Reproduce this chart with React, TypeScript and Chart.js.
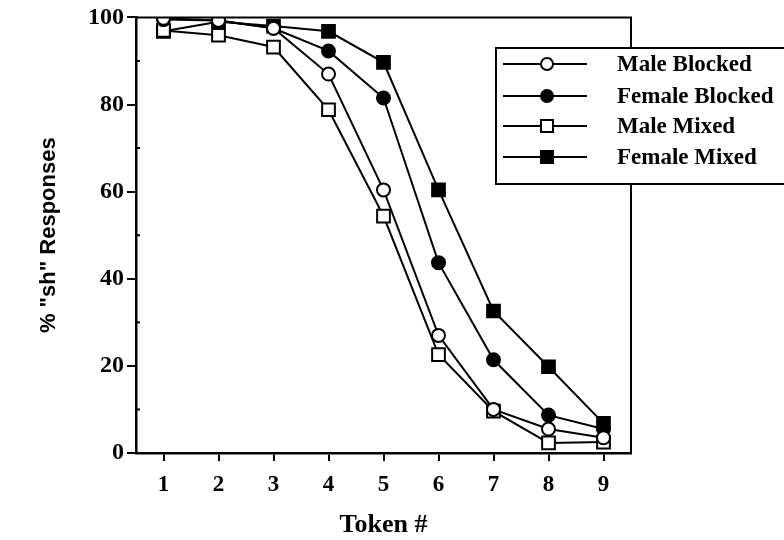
import React, { useEffect, useRef } from "react";
import { Chart, registerables } from "chart.js";

Chart.register(...registerables);

const tokens = [1, 2, 3, 4, 5, 6, 7, 8, 9];
const maleBlocked = [99.8, 99.3, 97.5, 87, 60.4, 27, 10, 5.5, 3.5];
const femaleBlocked = [99.5, 99.3, 97.5, 92.3, 81.5, 43.7, 21.4, 8.7, 5.5];
const maleMixed = [97, 95.9, 93.2, 78.8, 54.4, 22.6, 9.6, 2.3, 2.5];
const femaleMixed = [96.8, 99, 98, 96.8, 89.7, 60.4, 32.6, 19.8, 6.8];
const seriesNames = ["Male Blocked", "Female Blocked", "Male Mixed", "Female Mixed"];
const yTicks = [0, 20, 40, 60, 80, 100];
const yMinorTicks = [10, 30, 50, 70, 90];
const xTitle = "Token #";
const yTitle = '% "sh" Responses';

const SERIF = '"Liberation Serif", "Times New Roman", serif';
const SANS = '"Liberation Sans", Arial, sans-serif';

const framePlugin = {
  id: "frame",
  afterDraw(chart: any) {
    const { ctx, chartArea } = chart;
    const ys = chart.scales.y;
    ctx.save();
    ctx.strokeStyle = "#000";
    ctx.lineWidth = 2;
    ctx.beginPath();
    ctx.moveTo(chartArea.left, chartArea.top);
    ctx.lineTo(chartArea.right, chartArea.top);
    ctx.lineTo(chartArea.right, chartArea.bottom);
    ctx.stroke();
    yMinorTicks.forEach((v) => {
      const py = ys.getPixelForValue(v);
      ctx.beginPath();
      ctx.moveTo(chartArea.left, py);
      ctx.lineTo(chartArea.left + 4, py);
      ctx.stroke();
    });
    const lx = 496, ly = 48, lw = 300, lh = 136;
    ctx.fillStyle = "#fff";
    ctx.fillRect(lx, ly, lw, lh);
    ctx.strokeRect(lx, ly, lw, lh);
    const rows = [64, 96, 126, 157];
    const styles = [
      { shape: "circle", fill: "#fff" },
      { shape: "circle", fill: "#000" },
      { shape: "rect", fill: "#fff" },
      { shape: "rect", fill: "#000" },
    ];
    ctx.font = `bold 23px ${SERIF}`;
    ctx.textBaseline = "middle";
    ctx.textAlign = "left";
    rows.forEach((ry, i) => {
      ctx.beginPath();
      ctx.lineWidth = 2;
      ctx.moveTo(503, ry);
      ctx.lineTo(587, ry);
      ctx.stroke();
      const st = styles[i];
      ctx.fillStyle = st.fill;
      ctx.beginPath();
      if (st.shape === "circle") {
        ctx.arc(547, ry, 6, 0, Math.PI * 2);
      } else {
        ctx.rect(541, ry - 6, 12, 12);
      }
      ctx.fill();
      ctx.stroke();
      ctx.fillStyle = "#000";
      ctx.fillText(seriesNames[i], 617, ry + 1);
    });
    ctx.restore();
  },
};

export default function App() {
  const ref = useRef<HTMLCanvasElement | null>(null);
  useEffect(() => {
    if (!ref.current) return;
    const mk = (label: string, data: number[], shape: string, fill: string) => ({
      label,
      data: tokens.map((t, i) => ({ x: t, y: data[i] })),
      borderColor: "#000",
      borderWidth: 2,
      backgroundColor: fill,
      pointBackgroundColor: fill,
      pointBorderColor: "#000",
      pointBorderWidth: 2,
      pointStyle: shape,
      pointRadius: shape === "rect" ? 9 : 6.5,
      tension: 0,
      fill: false,
    });
    const chart = new Chart(ref.current, {
      type: "line",
      data: {
        datasets: [
          mk(seriesNames[0], maleBlocked, "circle", "#fff"),
          mk(seriesNames[1], femaleBlocked, "circle", "#000"),
          mk(seriesNames[2], maleMixed, "rect", "#fff"),
          mk(seriesNames[3], femaleMixed, "rect", "#000"),
        ],
      },
      options: {
        animation: false,
        responsive: false,
        devicePixelRatio: 1,
        layout: { padding: { left: 0, right: 153, top: 14, bottom: 0 } },
        plugins: { legend: { display: false }, tooltip: { enabled: false } },
        scales: {
          x: {
            type: "linear",
            min: 0.5,
            max: 9.5,
            afterFit: (s: any) => {
              s.height = 87;
            },
            afterBuildTicks: (s: any) => {
              s.ticks = tokens.map((v) => ({ value: v }));
            },
            ticks: {
              color: "#000",
              font: { family: SERIF, size: 23, weight: "bold" },
              padding: 10,
              maxRotation: 0,
            },
            grid: {
              drawOnChartArea: false,
              drawTicks: true,
              tickLength: 8,
              color: "#000",
              lineWidth: 2,
            },
            border: { display: true, color: "#000", width: 2.5 },
            title: {
              display: true,
              text: xTitle,
              color: "#000",
              font: { family: SERIF, size: 26, weight: "bold", lineHeight: 1 },
              padding: { top: 0, bottom: 2 },
            },
          },
          y: {
            type: "linear",
            min: 0,
            max: 100,
            afterFit: (s: any) => {
              s.width = 136;
            },
            afterBuildTicks: (s: any) => {
              s.ticks = yTicks.map((v) => ({ value: v }));
            },
            ticks: {
              color: "#000",
              font: { family: SERIF, size: 24, weight: "bold" },
              padding: 3,
            },
            grid: {
              drawOnChartArea: false,
              drawTicks: true,
              tickLength: 9,
              color: "#000",
              lineWidth: 2,
            },
            border: { display: true, color: "#000", width: 2.5 },
            title: {
              display: true,
              text: yTitle,
              color: "#000",
              font: { family: SANS, size: 22, weight: "bold", lineHeight: 1 },
              padding: { top: 38, bottom: 0 },
            },
          },
        },
      },
      plugins: [framePlugin],
    } as any);
    return () => chart.destroy();
  }, []);
  return (
    <div style={{ position: "fixed", left: 0, top: 0, width: 784, height: 540, background: "#fff" }}>
      <canvas ref={ref} width={784} height={540} style={{ width: 784, height: 540, display: "block" }} />
    </div>
  );
}
